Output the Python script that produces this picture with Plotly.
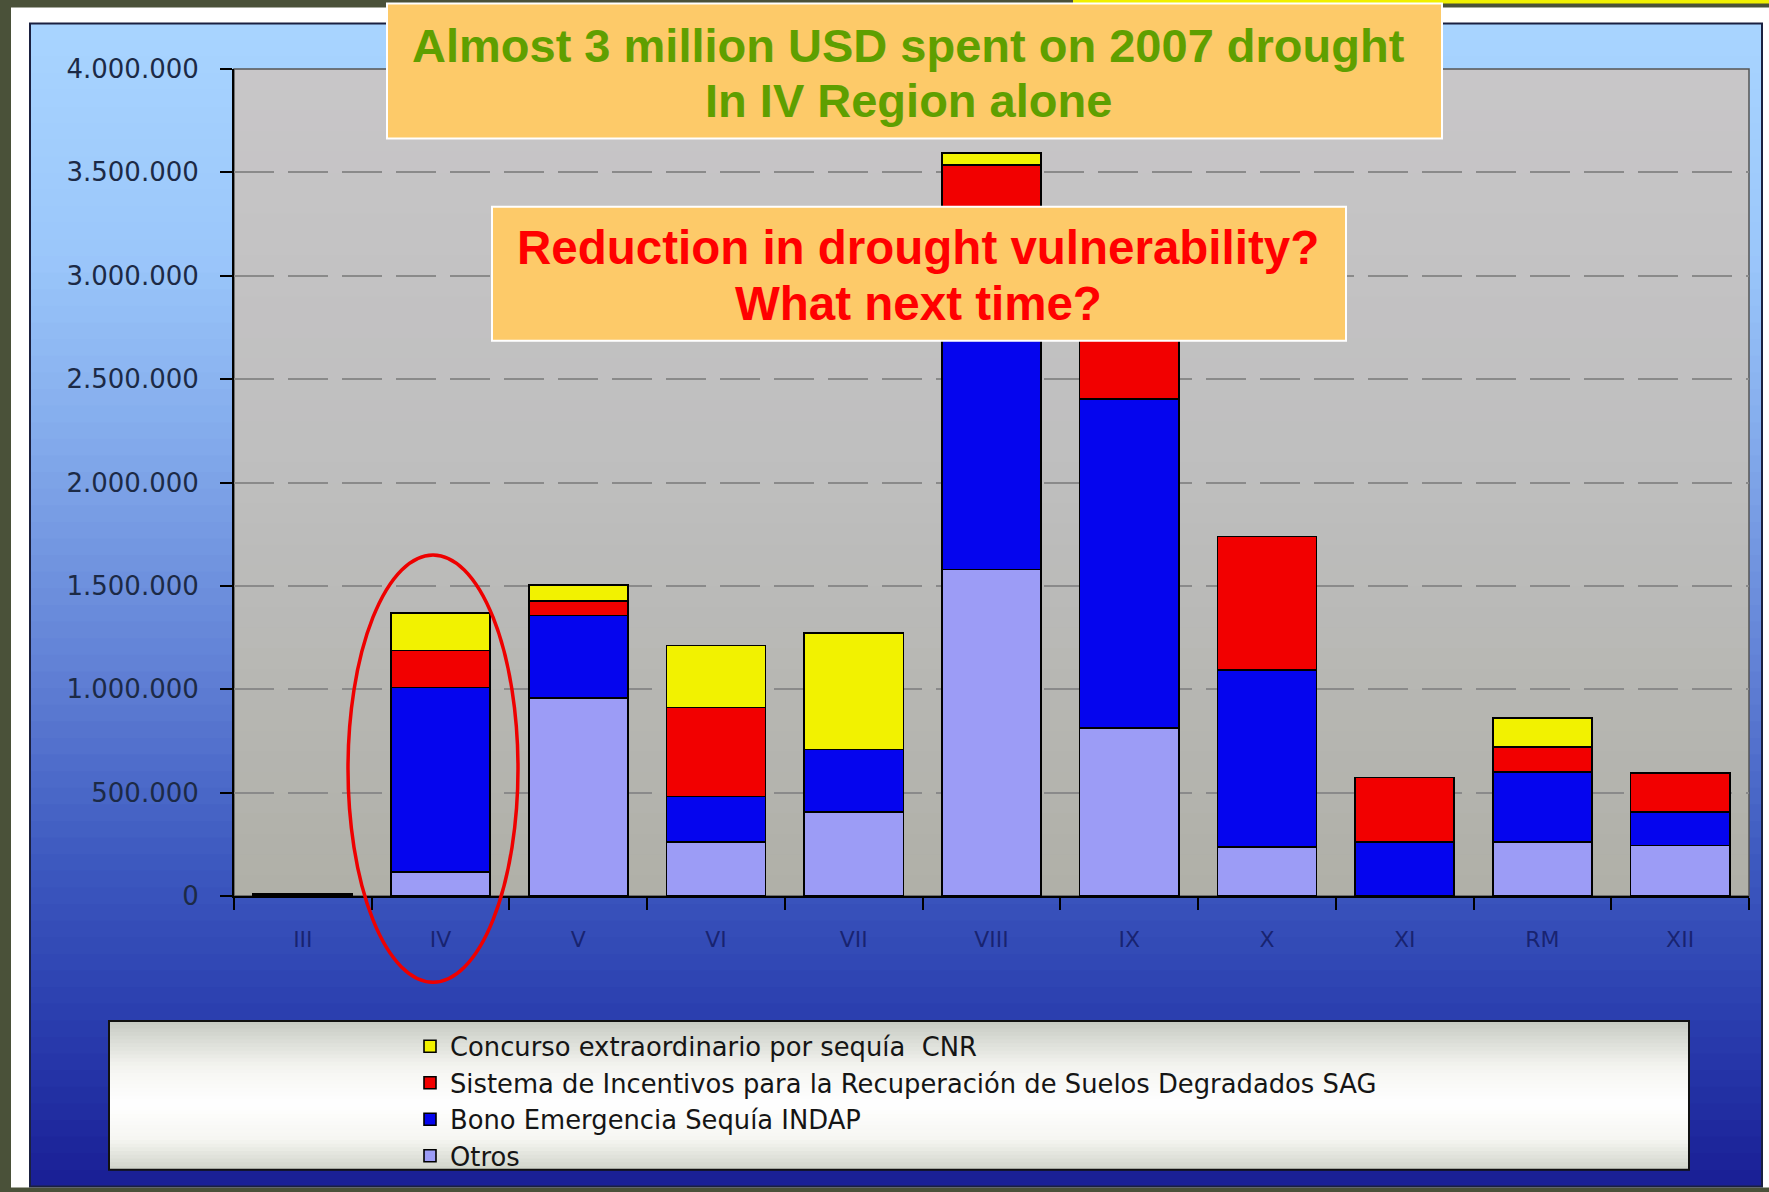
import plotly.graph_objects as go

# ---------------- data ----------------
regions = ["III", "IV", "V", "VI", "VII", "VIII", "IX", "X", "XI", "RM", "XII"]
otros = [10000, 117000, 959000, 260000, 406000, 1580000, 812000, 238000, None, 260000, 244000]
bono_indap = [None, 892000, 397000, 221000, 303000, 1720000, 1591000, 855000, 260000, 341000, 162000]
sag = [None, 179000, 72000, 430000, None, 235000, 500000, 645000, 314000, 119000, 189000]
cnr = [None, 181000, 75000, 301000, 563000, 59000, None, None, None, 141000, None]

series_names = [
    "Otros",
    "Bono Emergencia Sequía INDAP",
    "Sistema de Incentivos para la Recuperación de Suelos Degradados SAG",
    "Concurso extraordinario por sequía  CNR",
]
series_colors = ["#9c9cf6", "#0505ee", "#f20000", "#f2f200"]
y_ticks = [0, 500000, 1000000, 1500000, 2000000, 2500000, 3000000, 3500000, 4000000]

title1 = ["Almost 3 million USD spent on 2007 drought", "In IV Region alone"]
title2 = ["Reduction in drought vulnerability?", "What next time?"]

# ---------------- geometry ----------------
W, H = 1769, 1192
L, R, T, B = 234, 1749, 69, 903


def px(p):
    return (p - L) / (R - L)


def py(p):
    return (B - p) / (B - T)


def lerp_color(stops, t):
    for i in range(len(stops) - 1):
        t0, c0 = stops[i]
        t1, c1 = stops[i + 1]
        if t0 <= t <= t1:
            f = 0 if t1 == t0 else (t - t0) / (t1 - t0)
            return "rgb(%d,%d,%d)" % tuple(round(c0[k] + (c1[k] - c0[k]) * f) for k in range(3))
    return "rgb(%d,%d,%d)" % stops[-1][1]


shapes = []
# white frame
shapes.append(dict(type="rect", xref="paper", yref="paper", x0=px(11), x1=px(W + 5), y0=py(7), y1=py(H + 5),
                   fillcolor="#ffffff", line=dict(width=0), layer="below"))
# blue panel gradient
blue_stops = [(0.0, (168, 212, 255)), (0.2, (154, 198, 250)), (0.35, (132, 172, 236)),
              (0.55, (98, 130, 214)), (0.72, (62, 90, 192)), (0.88, (40, 58, 172)), (1.0, (26, 32, 150))]
PX0, PX1, PY0, PY1 = 30, 1762, 23, H + 4
n = 70
for i in range(n):
    a = PY0 + (PY1 - PY0) * i / n
    b = PY0 + (PY1 - PY0) * (i + 1) / n + 0.8
    shapes.append(dict(type="rect", xref="paper", yref="paper", x0=px(PX0), x1=px(PX1), y0=py(min(b, PY1)), y1=py(a),
                       fillcolor=lerp_color(blue_stops, i / (n - 1)), line=dict(width=0), layer="below"))
shapes.append(dict(type="rect", xref="paper", yref="paper", x0=px(PX0), x1=px(PX1), y0=py(PY1), y1=py(PY0),
                   fillcolor="rgba(0,0,0,0)", line=dict(color="#1a2040", width=2), layer="below"))
# plot area gradient
gray_stops = [(0.0, (200, 198, 200)), (0.5, (190, 190, 190)), (1.0, (176, 176, 168))]
m = 40
for i in range(m):
    a = T + (B - T) * i / m
    b = T + (B - T) * (i + 1) / m + 0.8
    shapes.append(dict(type="rect", xref="paper", yref="paper", x0=0, x1=1, y0=py(min(b, B)), y1=py(a),
                       fillcolor=lerp_color(gray_stops, i / (m - 1)), line=dict(width=0), layer="below"))
shapes.append(dict(type="rect", xref="paper", yref="paper", x0=0, x1=1, y0=0, y1=1,
                   fillcolor="rgba(0,0,0,0)", line=dict(color="#555555", width=1.5), layer="below"))
# legend box (vertical cylinder-like gradient)
lg_stops = [(0.0, (200, 204, 196)), (0.3, (244, 244, 240)), (0.55, (255, 255, 255)),
            (0.8, (246, 246, 242)), (1.0, (210, 214, 204))]
lx0, lx1, ly0, ly1 = 109, 1689, 1029, 1179
k = 40
for i in range(k):
    a = ly0 + (ly1 - ly0) * i / k
    b = ly0 + (ly1 - ly0) * (i + 1) / k + 0.8
    shapes.append(dict(type="rect", xref="paper", yref="paper", x0=px(lx0), x1=px(lx1), y0=py(min(b, ly1)), y1=py(a),
                       fillcolor=lerp_color(lg_stops, i / (k - 1)), line=dict(width=0), layer="below"))
shapes.append(dict(type="rect", xref="paper", yref="paper", x0=px(lx0), x1=px(lx1), y0=py(ly1), y1=py(ly0),
                   fillcolor="rgba(0,0,0,0)", line=dict(color="#111111", width=2), layer="below"))
# yellow strip at top right
shapes.append(dict(type="rect", xref="paper", yref="paper", x0=px(1073), x1=px(W + 5), y0=py(3), y1=py(-2),
                   fillcolor="#f0f000", line=dict(width=0), layer="below"))
# title boxes
shapes.append(dict(type="rect", xref="paper", yref="paper", x0=px(387), x1=px(1442), y0=py(139), y1=py(3),
                   fillcolor="#fdca69", line=dict(color="#ffffff", width=2), layer="above"))
shapes.append(dict(type="rect", xref="paper", yref="paper", x0=px(492), x1=px(1346), y0=py(343), y1=py(208),
                   fillcolor="#fdca69", line=dict(color="#ffffff", width=2), layer="above"))
# red ellipse
shapes.append(dict(type="circle", xref="paper", yref="paper", x0=px(348), x1=px(518), y0=py(990), y1=py(559),
                   fillcolor="rgba(0,0,0,0)", line=dict(color="#ee0000", width=3.5), layer="above"))

title_font = "Liberation Sans, Arial"
annotations = [
    dict(text=title1[0], x=px(908), y=py(45), xref="paper", yref="paper", showarrow=False,
         font=dict(family=title_font, size=47, color="#5f9f00", weight="bold"),
         xanchor="center", yanchor="middle"),
    dict(text=title1[1], x=px(908), y=py(101), xref="paper", yref="paper", showarrow=False,
         font=dict(family=title_font, size=47, color="#5f9f00", weight="bold"),
         xanchor="center", yanchor="middle"),
    dict(text=title2[0], x=px(918), y=py(249), xref="paper", yref="paper", showarrow=False,
         font=dict(family=title_font, size=47.5, color="#ff0000", weight="bold"),
         xanchor="center", yanchor="middle"),
    dict(text=title2[1], x=px(918), y=py(305), xref="paper", yref="paper", showarrow=False,
         font=dict(family=title_font, size=47.5, color="#ff0000", weight="bold"),
         xanchor="center", yanchor="middle"),
]

fig = go.Figure()
for vals, name, col in zip([otros, bono_indap, sag, cnr], series_names, series_colors):
    fig.add_trace(go.Bar(x=regions, y=vals, name=name,
                         marker=dict(color=col, line=dict(color="#000000", width=1.6))))

fig.update_layout(
    width=W, height=H,
    margin=dict(l=L, r=W - R, t=T, b=H - B, pad=0),
    paper_bgcolor="#4a5139",
    plot_bgcolor="rgba(0,0,0,0)",
    barmode="stack",
    bargap=0.28,
    separators=",.",
    shapes=shapes,
    annotations=annotations,
    showlegend=True,
    legend=dict(traceorder="reversed", x=px(410), y=py(1031), xanchor="left", yanchor="top",
                xref="paper", yref="paper",
                bgcolor="rgba(0,0,0,0)", borderwidth=0,
                font=dict(family="DejaVu Sans", size=25.8, color="#151515"),
                itemclick=False),
    xaxis=dict(range=[-0.5, len(regions) - 0.5], showgrid=False, zeroline=False,
               showline=True, linecolor="#000000", linewidth=2,
               ticks="outside", tickson="boundaries", ticklen=12, tickcolor="#000000", tickwidth=1.5,
               tickfont=dict(family="DejaVu Sans", size=22, color="rgba(20,28,100,0.85)"),
               ticklabelstandoff=23),
    yaxis=dict(range=[0, 4000000], tickvals=y_ticks, tickformat=",d",
               showgrid=True, gridcolor="#8a8a8a", gridwidth=2, griddash="40px,14px",
               zeroline=False, showline=True, linecolor="#000000", linewidth=2,
               ticks="outside", ticklen=12, tickcolor="#000000", tickwidth=1.5,
               tickfont=dict(family="DejaVu Sans", size=26, color="#1c2a46"),
               ticklabelstandoff=16),
)

fig.write_html("out.html", config={"displayModeBar": False},
               post_script="document.body.style.margin='0';")
